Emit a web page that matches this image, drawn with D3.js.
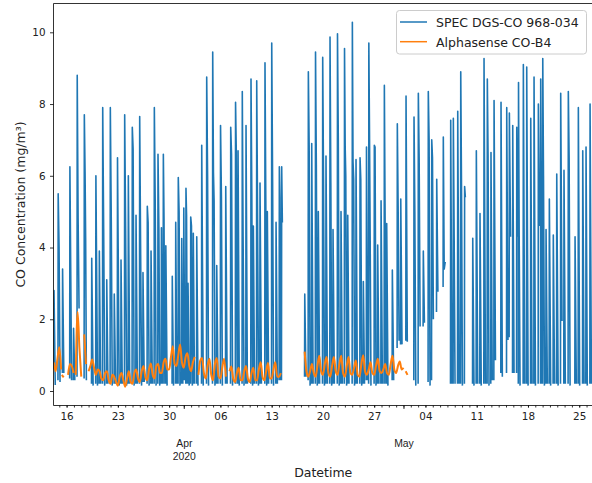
<!DOCTYPE html>
<html>
<head>
<meta charset="utf-8">
<script src="https://cdn.jsdelivr.net/npm/d3@7"></script>
<style>
  body { margin: 0; background: #fff; }
  svg { display: block; font-family: "DejaVu Sans", sans-serif; }
</style>
</head>
<body>
<script>
// Series names and colours
const seriesNames = ["SPEC DGS-CO 968-034", "Alphasense CO-B4"];
const seriesColors = ["#1f77b4", "#ff7f0e"];

// Value axis ticks
const yTicks = [0, 2, 4, 6, 8, 10];

// Time is kept as days since 2020-03-14 00:00 UTC
const originMs = Date.UTC(2020, 2, 14);
const viewDays = [0.21, 73.88];

// SPEC sensor: each entry is one logged burst of [day, mg/m³] readings;
// the logger records nothing between bursts
const specBursts = [
  [[0.25,0.6],[0.28,2.8],[0.45,0.17]],
  [[0.82,0.3],[0.85,5.5],[0.97,4.0],[1.1,0.25]],
  [[1.42,0.5],[1.45,3.4],[1.62,0.5]],
  [[2.42,0.35],[2.45,6.25],[2.68,0.3]],
  [[2.92,0.3],[2.95,1.75],[3.12,0.3]],
  [[3.42,0.4],[3.45,8.8],[3.57,4.8],[3.7,2.3]],
  [[4.39,0.35],[4.42,7.7],[4.52,6.1],[4.6,4.25],[4.7,0.3]],
  [[5.4,0.2],[5.43,3.7],[5.62,0.15]],
  [[5.97,0.2],[6.0,6.0],[6.22,0.15]],
  [[6.44,0.2],[6.47,3.9],[6.64,0.2]],
  [[6.9,0.2],[6.93,7.9],[7.06,4.5],[7.2,0.15]],
  [[7.45,0.2],[7.48,3.1],[7.64,0.2]],
  [[7.94,0.2],[7.97,7.9],[8.1,4.7],[8.23,0.15]],
  [[8.48,0.2],[8.51,2.7],[8.68,0.2]],
  [[8.92,0.2],[8.95,6.5],[9.18,0.15]],
  [[9.4,0.2],[9.43,3.65],[9.6,0.2]],
  [[9.9,0.2],[9.93,7.7],[10.06,4.4],[10.2,0.15]],
  [[10.4,0.2],[10.43,6.0],[10.62,0.2]],
  [[10.94,0.2],[10.97,7.35],[11.08,6.75],[11.22,0.15]],
  [[11.45,0.2],[11.48,4.9],[11.66,0.2]],
  [[11.95,0.2],[11.98,7.65],[12.1,4.1],[12.24,0.15]],
  [[12.4,0.25],[12.43,3.3],[12.6,0.25]],
  [[12.99,0.2],[13.02,5.15],[13.13,4.7],[13.27,0.15]],
  [[13.5,0.2],[13.53,3.9],[13.7,0.2]],
  [[13.95,0.2],[13.98,7.9],[14.1,5.2],[14.22,0.15]],
  [[14.45,0.2],[14.48,6.6],[14.6,4.5],[14.72,0.15]],
  [[14.92,0.2],[14.95,4.55],[15.1,0.2]],
  [[15.18,0.2],[15.21,6.6],[15.3,4.8],[15.42,0.2]],
  [[15.52,0.2],[15.55,4.05],[15.72,0.15]],
  [[16.4,0.2],[16.43,3.2],[16.6,0.15]],
  [[16.87,0.2],[16.9,4.7],[17.05,0.2]],
  [[17.22,0.2],[17.25,5.95],[17.36,5.0],[17.48,0.15]],
  [[17.69,0.2],[17.72,4.25],[17.87,0.2]],
  [[17.97,0.3],[18.0,5.1],[18.14,0.3]],
  [[18.27,0.2],[18.3,5.65],[18.38,4.9],[18.47,0.2]],
  [[18.55,0.2],[18.58,3.0],[18.74,0.15]],
  [[18.92,0.2],[18.95,4.85],[19.05,4.6],[19.17,0.15]],
  [[19.27,0.2],[19.3,4.4],[19.46,0.2]],
  [[19.74,0.2],[19.77,4.3],[19.94,0.15]],
  [[20.42,0.2],[20.45,6.85],[20.66,0.15]],
  [[21.1,0.2],[21.13,8.75],[21.25,6.0],[21.38,0.15]],
  [[21.92,0.2],[21.95,9.45],[22.05,6.1],[22.14,5.3],[22.26,0.15]],
  [[22.47,0.2],[22.5,3.5],[22.67,0.2]],
  [[22.99,0.2],[23.02,7.4],[23.14,5.4],[23.27,0.15]],
  [[23.7,0.2],[23.73,5.7],[23.92,0.2]],
  [[24.38,0.2],[24.41,7.35],[24.52,6.6],[24.66,0.15]],
  [[25.04,0.2],[25.07,8.05],[25.17,6.65],[25.3,0.2]],
  [[25.38,0.2],[25.41,6.7],[25.58,0.15]],
  [[25.96,0.2],[25.99,8.35],[26.1,4.3],[26.23,0.15]],
  [[26.47,0.2],[26.5,7.4],[26.68,0.2]],
  [[27.15,0.2],[27.18,8.7],[27.29,5.5],[27.4,0.15]],
  [[27.47,0.2],[27.5,4.6],[27.66,0.2]],
  [[27.93,0.2],[27.96,8.65],[28.08,4.7],[28.2,0.15]],
  [[28.38,0.2],[28.41,5.8],[28.6,0.2]],
  [[29.06,0.2],[29.09,9.15],[29.2,5.3],[29.32,0.15]],
  [[29.38,0.2],[29.41,5.0],[29.58,0.2]],
  [[29.98,0.2],[30.01,9.7],[30.13,5.8],[30.26,0.15]],
  [[30.57,0.2],[30.6,4.7],[30.78,0.2]],
  [[31.02,0.3],[31.05,6.25],[31.13,5.4],[31.24,0.3]],
  [[31.34,0.3],[31.37,6.25],[31.46,4.7]],
  [[34.49,0.4],[34.52,2.7],[34.68,0.4]],
  [[34.98,0.3],[35.01,8.9],[35.12,6.85],[35.25,0.15]],
  [[35.44,0.2],[35.47,6.9],[35.66,0.2]],
  [[35.96,0.2],[35.99,9.45],[36.1,6.3],[36.23,0.15]],
  [[36.34,0.2],[36.37,5.0],[36.55,0.2]],
  [[36.94,0.2],[36.97,9.3],[37.08,5.9],[37.21,0.15]],
  [[37.39,0.2],[37.42,6.55],[37.62,0.2]],
  [[37.94,0.2],[37.97,9.87],[38.08,5.8],[38.2,0.15]],
  [[38.35,0.2],[38.38,4.5],[38.56,0.2]],
  [[38.96,0.2],[38.99,9.96],[39.1,7.0],[39.23,0.15]],
  [[39.44,0.2],[39.47,5.0],[39.65,0.2]],
  [[39.92,0.2],[39.95,9.55],[40.04,6.8],[40.12,6.0],[40.24,0.15]],
  [[40.36,0.2],[40.39,4.9],[40.56,0.2]],
  [[40.99,0.2],[41.02,10.28],[41.11,6.4],[41.2,5.9],[41.32,0.15]],
  [[41.49,0.2],[41.52,6.45],[41.7,0.2]],
  [[42.04,0.2],[42.07,6.5],[42.17,5.9],[42.3,0.15]],
  [[42.49,0.2],[42.52,3.05],[42.68,0.2]],
  [[42.92,0.3],[42.95,6.8],[43.12,0.3]],
  [[43.24,0.2],[43.27,9.7],[43.36,7.2],[43.45,4.3],[43.56,0.15]],
  [[43.99,0.2],[44.02,6.85],[44.12,6.8],[44.25,0.15]],
  [[44.45,0.2],[44.48,4.07],[44.65,0.2]],
  [[44.91,0.2],[44.94,5.3],[45.12,0.2]],
  [[45.36,0.2],[45.39,8.52],[45.48,5.2],[45.6,0.2]],
  [[45.68,0.2],[45.71,4.67],[45.88,0.15]],
  [[46.45,0.3],[46.48,3.37],[46.66,0.3]],
  [[47.13,1.2],[47.16,7.45],[47.27,5.15],[47.4,1.4]],
  [[47.6,1.3],[47.63,5.35],[47.8,1.3]],
  [[48.32,1.4],[48.35,8.22],[48.52,1.37]],
  [[49.41,0.3],[49.44,7.64],[49.55,5.0],[49.68,0.15]],
  [[50.0,0.2],[50.03,8.3],[50.14,6.5],[50.27,1.8]],
  [[50.68,1.8],[50.71,3.9],[50.86,1.9]],
  [[51.36,0.25],[51.39,8.35],[51.5,7.0],[51.63,0.15]],
  [[51.83,0.3],[51.86,7.0],[51.96,6.5],[52.08,2.0]],
  [[52.51,2.2],[52.54,5.9],[52.7,2.77]],
  [[53.41,2.9],[53.44,7.08],[53.56,3.4],[53.7,3.6]],
  [[54.42,0.2],[54.45,7.55],[54.62,0.2]],
  [[54.78,0.2],[54.81,7.6],[54.92,4.3],[55.04,0.2]],
  [[55.38,0.2],[55.41,7.8],[55.6,0.2]],
  [[55.79,0.2],[55.82,8.9],[55.93,5.5],[56.05,0.15]],
  [[56.32,0.2],[56.35,5.7],[56.45,5.4]],
  [[57.43,0.2],[57.46,4.26],[57.63,0.15]],
  [[57.92,0.2],[57.95,6.7],[58.14,0.2]],
  [[58.42,0.2],[58.45,4.95],[58.62,0.15]],
  [[58.97,0.2],[59.0,9.27],[59.2,0.2]],
  [[59.42,0.2],[59.45,8.7],[59.55,6.6],[59.68,0.15]],
  [[59.92,0.2],[59.95,6.65],[60.12,0.3]],
  [[60.34,0.3],[60.37,8.1],[60.56,0.86]],
  [[61.29,0.5],[61.32,8.05],[61.5,0.4]],
  [[62.07,0.5],[62.1,7.9],[62.27,1.42]],
  [[62.43,1.5],[62.46,7.75],[62.62,4.3]],
  [[62.89,0.5],[62.92,7.4],[63.1,0.5]],
  [[63.44,0.5],[63.47,7.35],[63.6,4.3]],
  [[63.68,0.2],[63.71,8.6],[63.8,4.3],[63.92,0.15]],
  [[64.34,0.2],[64.37,9.1],[64.56,0.2]],
  [[64.8,0.2],[64.83,9.03],[65.02,0.15]],
  [[65.35,0.2],[65.38,7.6],[65.56,0.2]],
  [[65.8,0.2],[65.83,8.75],[66.02,0.15]],
  [[66.39,0.2],[66.42,8.0],[66.58,4.6]],
  [[66.71,0.2],[66.74,8.7],[66.92,0.2]],
  [[66.99,0.2],[67.02,9.27],[67.12,6.0],[67.25,0.15]],
  [[67.44,0.2],[67.47,4.5],[67.64,0.2]],
  [[67.89,0.2],[67.92,5.35],[68.1,0.15]],
  [[68.43,0.2],[68.46,4.35],[68.63,0.2]],
  [[68.9,0.2],[68.93,6.05],[69.12,0.15]],
  [[69.44,0.2],[69.47,8.3],[69.65,1.95]],
  [[69.89,0.2],[69.92,6.15],[70.1,0.2]],
  [[70.48,0.2],[70.51,8.35],[70.62,6.5],[70.75,0.15]],
  [[71.4,0.2],[71.43,4.3],[71.6,0.2]],
  [[71.85,0.2],[71.88,7.9],[72.06,0.15]],
  [[72.45,0.2],[72.48,6.7],[72.66,0.2]],
  [[72.9,0.2],[72.93,6.8],[73.1,0.15]],
  [[73.45,0.2],[73.48,8.0],[73.66,0.2]]
];

// Alphasense readings, sampled every 6 h; each run starts at the given day
const alphaStep = 0.25;
const alphaStarts = [0.25, 1.35, 2.2, 3.25, 4.4, 5.0, 34.5, 48.3];
const alphaRuns = [
  [0.8, 0.55, 0.9, 1.22, 0.6],
  [0.45, 0.38],
  [0.45, 0.75, 0.7, 0.5],
  [0.45, 2.2, 1.2, 0.4],
  [1.58, 0.75],
  [
    0.55, 0.7, 0.88, 0.65,
    0.45, 0.6, 0.55, 0.35,
    0.3, 0.5, 0.55, 0.3,
    0.2, 0.45, 0.4, 0.25,
    0.15, 0.4, 0.5, 0.3,
    0.12, 0.35, 0.55, 0.25,
    0.2, 0.5, 0.6, 0.35,
    0.25, 0.55, 0.7, 0.4,
    0.3, 0.6, 0.77, 0.45,
    0.35, 0.7, 0.75, 0.5,
    0.5, 0.8, 0.9, 0.6,
    0.6, 0.95, 1.25, 0.75,
    0.7, 1.0, 1.3, 0.8,
    0.65, 0.95, 1.05, 0.7,
    0.55, 0.8, 0.95, null,
    0.45, 0.85, 0.92, 0.5,
    0.35, 0.7, 0.9, 0.45,
    0.3, 0.75, 0.92, 0.4,
    0.35, 0.65, 0.9, 0.4,
    null, 0.55, 0.68, 0.35,
    0.25, 0.5, 0.65, 0.3,
    0.3, 0.55, 0.7, 0.35,
    0.25, 0.5, 0.65, 0.3,
    0.3, 0.6, 0.8, 0.4,
    0.3, 0.55, 0.78, 0.35,
    0.35, 0.6, 0.8, 0.4,
    0.4, 0.5
  ],
  [
    1.1, 0.55,
    0.4, 0.55, 0.75, 0.5,
    0.4, 0.7, 0.98, 0.55,
    0.45, 0.75, 0.95, 0.5,
    0.4, 0.7, 0.95, 0.55,
    0.45, 0.75, 0.98, 0.5,
    0.4, 0.7, 0.95, 0.5,
    0.45, 0.65, 0.85, 0.45,
    0.4, 0.75, 1.0, 0.55,
    0.45, 0.6, 0.8, 0.5,
    0.45, 0.7, 0.9, 0.55,
    0.5, 0.6, 0.75, 0.5,
    0.45, 0.75, 0.98, 0.6,
    0.5, 0.7, 0.82, 0.6,
    0.65
  ],
  [0.55, 0.45]
];

// ---- layout ----
const W = 592, H = 483;
const plot = { left: 53.5, top: 3.5, right: 593, bottom: 405.5 };
const tickFont = 10.4, labelFont = 12.5;

const toDate = d => new Date(originMs + d * 864e5);

const x = d3.scaleUtc()
  .domain(viewDays.map(toDate))
  .range([plot.left, plot.right]);
const y = d3.scaleLinear()
  .domain([-0.404, 10.803])
  .range([plot.bottom, plot.top]);

const svg = d3.select("body").append("svg")
  .attr("width", W).attr("height", H);

svg.append("defs").append("clipPath").attr("id", "plotArea")
  .append("rect")
  .attr("x", plot.left).attr("y", plot.top)
  .attr("width", plot.right - plot.left).attr("height", plot.bottom - plot.top);

// ---- series ----
// gaps between bursts / runs are marked with a null point
const specData = [];
specBursts.forEach(burst => {
  burst.forEach(([d, v]) => specData.push({ t: toDate(d), v }));
  specData.push({ t: null, v: null });
});
const alphaData = [];
alphaRuns.forEach((run, i) => {
  run.forEach((v, j) => alphaData.push({ t: toDate(alphaStarts[i] + j * alphaStep), v }));
  alphaData.push({ t: null, v: null });
});

const defined = p => p.v !== null && p.t !== null;
const specLine = d3.line().defined(defined).x(p => x(p.t)).y(p => y(p.v));
const alphaLine = d3.line().defined(defined).x(p => x(p.t)).y(p => y(p.v))
  .curve(d3.curveMonotoneX);

const lines = svg.append("g").attr("clip-path", "url(#plotArea)");
lines.append("path")
  .datum(specData)
  .attr("d", specLine)
  .attr("fill", "none")
  .attr("stroke", seriesColors[0])
  .attr("stroke-width", 1.6)
  .attr("stroke-linejoin", "round");
lines.append("path")
  .datum(alphaData)
  .attr("d", alphaLine)
  .attr("fill", "none")
  .attr("stroke", seriesColors[1])
  .attr("stroke-width", 2)
  .attr("stroke-linejoin", "round");

// ---- axes ----
function styleAxis(g) {
  g.select(".domain").remove();
  g.selectAll(".tick line").attr("stroke", "#000").attr("stroke-width", 0.8);
  g.selectAll(".tick text")
    .attr("fill", "#222")
    .attr("font-size", tickFont)
    .attr("font-family", "DejaVu Sans, sans-serif");
}

// daily minor ticks
svg.append("g")
  .attr("transform", `translate(0,${plot.bottom})`)
  .call(d3.axisBottom(x).ticks(d3.utcDay.every(1)).tickSize(2).tickFormat(""))
  .call(styleAxis);

// weekly day-of-month labels
svg.append("g")
  .attr("transform", `translate(0,${plot.bottom})`)
  .call(d3.axisBottom(x).ticks(d3.utcMonday.every(1)).tickSize(2).tickPadding(5.5)
    .tickFormat(d3.utcFormat("%d")))
  .call(styleAxis);

// month ticks, the first one also carries the year
const fmtMonth = d3.utcFormat("%b"), fmtYear = d3.utcFormat("%Y");
const monthAxis = svg.append("g")
  .attr("transform", `translate(0,${plot.bottom})`)
  .call(d3.axisBottom(x).ticks(d3.utcMonth.every(1)).tickSize(3.5).tickFormat(""))
  .call(styleAxis);
monthAxis.selectAll(".tick").each(function (d, i) {
  const parts = i === 0 ? [fmtMonth(d), fmtYear(d)] : [fmtMonth(d)];
  const t = d3.select(this).append("text")
    .attr("fill", "#222")
    .attr("font-size", tickFont)
    .attr("text-anchor", "middle");
  parts.forEach((p, k) => {
    t.append("tspan").attr("x", 0).attr("y", 41.2 + k * 13.7).text(p);
  });
});

svg.append("g")
  .attr("transform", `translate(${plot.left},0)`)
  .call(d3.axisLeft(y).tickValues(yTicks).tickSize(3.5).tickPadding(4.5))
  .call(styleAxis);

// ---- spines ----
const spines = svg.append("g").attr("stroke", "#000").attr("stroke-width", 0.8);
spines.append("line").attr("x1", plot.left).attr("x2", plot.left).attr("y1", plot.top).attr("y2", plot.bottom);
spines.append("line").attr("x1", plot.left).attr("x2", plot.right).attr("y1", plot.bottom).attr("y2", plot.bottom);
spines.append("line").attr("x1", plot.left).attr("x2", plot.right).attr("y1", plot.top).attr("y2", plot.top);
spines.append("line").attr("x1", plot.right).attr("x2", plot.right).attr("y1", plot.top).attr("y2", plot.bottom);

// ---- axis titles ----
svg.append("text")
  .attr("x", (plot.left + plot.right) / 2).attr("y", 477.2)
  .attr("text-anchor", "middle")
  .attr("font-size", labelFont).attr("fill", "#222")
  .text("Datetime");

svg.append("text")
  .attr("transform", `translate(24.5,${(plot.top + plot.bottom) / 2}) rotate(-90)`)
  .attr("text-anchor", "middle")
  .attr("font-size", labelFont).attr("fill", "#222")
  .text("CO Concentration (mg/m³)");

// ---- legend ----
const legend = svg.append("g");
legend.append("rect")
  .attr("x", 396.5).attr("y", 10.5).attr("width", 190).attr("height", 43.5)
  .attr("rx", 3)
  .attr("fill", "#fff").attr("fill-opacity", 0.8)
  .attr("stroke", "#ccc").attr("stroke-width", 1);
seriesNames.forEach((name, i) => {
  const cy = 22 + i * 19.7;
  legend.append("line")
    .attr("x1", 400).attr("x2", 427).attr("y1", cy).attr("y2", cy)
    .attr("stroke", seriesColors[i]).attr("stroke-width", 1.5);
  legend.append("text")
    .attr("x", 436).attr("y", cy + 5.2)
    .attr("font-size", labelFont).attr("fill", "#222")
    .text(name);
});
</script>
</body>
</html>
